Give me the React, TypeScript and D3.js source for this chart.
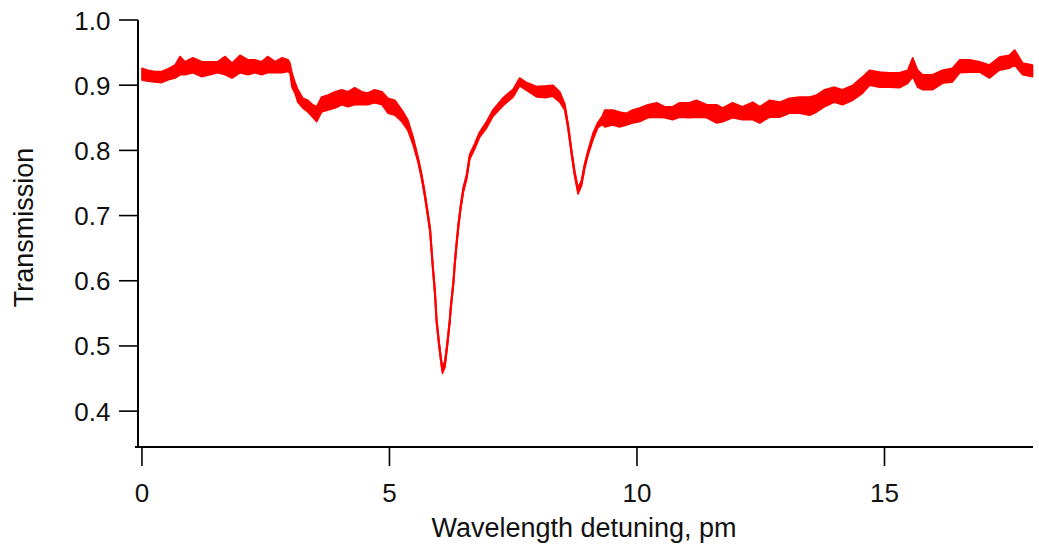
import React from 'react';
import * as d3 from 'd3';

// Wavelength detuning (pm) at sampled points
const detuning = [
  0.00, 0.12, 0.26, 0.40, 0.52, 0.67, 0.77, 0.87, 1.03, 1.21, 1.37, 1.53, 1.68, 1.82, 1.98, 2.14, 2.28, 2.42, 2.54, 2.69, 2.83, 2.95, 2.99,
  3.03, 3.09, 3.15, 3.25, 3.35, 3.45, 3.53, 3.63, 3.76, 3.90, 4.04, 4.16, 4.30, 4.44, 4.56, 4.70, 4.85, 4.97, 5.11, 5.25, 5.37, 5.48,
  5.58, 5.65, 5.71, 5.76, 5.82, 5.85, 5.88, 5.92, 5.95, 6.00, 6.04, 6.07, 6.12, 6.17, 6.22, 6.24, 6.29, 6.32, 6.35, 6.39, 6.44, 6.49, 6.56, 6.62,
  6.72, 6.82, 6.96, 7.09, 7.30, 7.50, 7.63, 7.77, 7.97, 8.17, 8.30, 8.44, 8.54,
  8.61, 8.68, 8.74, 8.81, 8.88, 8.94, 9.01, 9.11, 9.21, 9.30,
  9.35, 9.51, 9.65, 9.79, 9.91, 10.05, 10.22, 10.40, 10.56, 10.72, 10.86, 11.06, 11.20, 11.41, 11.61, 11.73, 11.93, 12.13, 12.34, 12.48, 12.68, 12.88, 13.08, 13.28, 13.49,
  13.63, 13.79, 13.99, 14.15, 14.36, 14.56, 14.70, 14.90, 15.10, 15.30, 15.47, 15.57, 15.67, 15.77, 15.97, 16.17, 16.37, 16.52, 16.72, 16.92, 17.12, 17.32, 17.52, 17.63, 17.79, 17.99,
];

// Upper edge of the noisy transmission trace
const transmissionHigh = [
  0.926, 0.923, 0.921, 0.921, 0.925, 0.931, 0.944, 0.936, 0.942, 0.936, 0.936, 0.936, 0.944, 0.934, 0.946, 0.939, 0.939, 0.936, 0.944, 0.936, 0.942, 0.939, 0.934,
  0.919, 0.905, 0.893, 0.880, 0.877, 0.870, 0.867, 0.882, 0.885, 0.890, 0.893, 0.890, 0.896, 0.890, 0.888, 0.893, 0.890, 0.880, 0.877, 0.862, 0.847, 0.820,
  0.789, 0.764, 0.738, 0.713, 0.682, 0.651, 0.621, 0.585, 0.544, 0.508, 0.483, 0.468, 0.477, 0.508, 0.544, 0.564, 0.600, 0.631, 0.656, 0.687, 0.718, 0.743, 0.764, 0.794,
  0.810, 0.828, 0.844, 0.862, 0.881, 0.894, 0.911, 0.904, 0.898, 0.899, 0.900, 0.890, 0.872,
  0.840, 0.800, 0.769, 0.743, 0.754, 0.779, 0.800, 0.826, 0.843, 0.853,
  0.862, 0.862, 0.859, 0.857, 0.862, 0.865, 0.870, 0.873, 0.867, 0.867, 0.873, 0.873, 0.877, 0.870, 0.870, 0.865, 0.873, 0.867, 0.874, 0.867, 0.877, 0.874, 0.880, 0.882, 0.882,
  0.885, 0.893, 0.897, 0.893, 0.900, 0.913, 0.923, 0.920, 0.919, 0.919, 0.923, 0.942, 0.923, 0.916, 0.916, 0.923, 0.926, 0.939, 0.939, 0.936, 0.931, 0.943, 0.946, 0.954, 0.934, 0.931,
];

// Lower edge of the noisy transmission trace
const transmissionLow = [
  0.908, 0.906, 0.905, 0.904, 0.908, 0.911, 0.916, 0.916, 0.919, 0.913, 0.916, 0.919, 0.916, 0.911, 0.919, 0.916, 0.919, 0.916, 0.919, 0.919, 0.919, 0.921, 0.919,
  0.897, 0.888, 0.874, 0.865, 0.859, 0.851, 0.844, 0.859, 0.862, 0.865, 0.870, 0.867, 0.870, 0.870, 0.870, 0.873, 0.870, 0.857, 0.854, 0.844, 0.831, 0.808,
  0.781, 0.756, 0.730, 0.705, 0.674, 0.643, 0.613, 0.577, 0.536, 0.500, 0.475, 0.458, 0.467, 0.500, 0.536, 0.556, 0.592, 0.623, 0.648, 0.679, 0.710, 0.735, 0.756, 0.786,
  0.802, 0.820, 0.834, 0.852, 0.869, 0.882, 0.899, 0.892, 0.882, 0.881, 0.883, 0.874, 0.862,
  0.832, 0.792, 0.761, 0.733, 0.746, 0.771, 0.792, 0.816, 0.835, 0.840,
  0.836, 0.839, 0.836, 0.839, 0.842, 0.844, 0.850, 0.851, 0.850, 0.847, 0.851, 0.850, 0.851, 0.850, 0.842, 0.844, 0.850, 0.847, 0.847, 0.842, 0.851, 0.851, 0.857, 0.857, 0.854,
  0.859, 0.867, 0.874, 0.870, 0.877, 0.888, 0.900, 0.897, 0.897, 0.896, 0.903, 0.913, 0.897, 0.893, 0.893, 0.903, 0.905, 0.919, 0.920, 0.920, 0.911, 0.923, 0.926, 0.931, 0.916, 0.913,
];

const yTickValues = [0.4, 0.5, 0.6, 0.7, 0.8, 0.9, 1.0];
const xTickValues = [0, 5, 10, 15];
const xTitle = 'Wavelength detuning, pm';
const yTitle = 'Transmission';

const FONT = '"Liberation Sans", Arial, sans-serif';

export default function App() {
  const x = d3.scaleLinear().domain([-0.08, 18]).range([138, 1033]);
  const y = d3.scaleLinear().domain([0.345, 1.0]).range([447, 20]);

  const pts = detuning.map((d, i) => ({ d, hi: transmissionHigh[i], lo: transmissionLow[i] }));
  const band = d3
    .area<{ d: number; hi: number; lo: number }>()
    .x((p) => x(p.d))
    .y0((p) => y(p.lo))
    .y1((p) => y(p.hi));
  const mid = d3
    .line<{ d: number; hi: number; lo: number }>()
    .x((p) => x(p.d))
    .y((p) => y((p.hi + p.lo) / 2));

  const fmt = d3.format('.1f');
  const [x0, x1] = x.range();
  const [yb, yt] = y.range();

  return (
    <svg
      width={1039}
      height={555}
      style={{ position: 'absolute', left: 0, top: 0, background: '#fff' }}
      fontFamily={FONT}
    >
      <rect x={0} y={0} width={1039} height={555} fill="#fff" />
      {/* data */}
      <path d={band(pts) || ''} fill="#ff0000" stroke="#ff0000" strokeWidth={1.6} strokeLinejoin="round" />
      <path d={mid(pts) || ''} fill="none" stroke="#ff0000" strokeWidth={2.2} strokeLinejoin="round" />

      {/* y axis */}
      <line x1={x0} x2={x0} y1={yt} y2={yb} stroke="#000" strokeWidth={2} />
      {yTickValues.map((v) => (
        <g key={'y' + v}>
          <line x1={x0 - 19} x2={x0} y1={y(v)} y2={y(v)} stroke="#000" strokeWidth={1.6} />
          <text x={110.5} y={y(v) + 9.5} textAnchor="end" fontSize={26} fill="#111">
            {fmt(v)}
          </text>
        </g>
      ))}

      {/* x axis */}
      <line x1={x0 - 3} x2={x1} y1={yb} y2={yb} stroke="#000" strokeWidth={2} />
      {xTickValues.map((v) => (
        <g key={'x' + v}>
          <line x1={x(v)} x2={x(v)} y1={yb} y2={yb + 19} stroke="#000" strokeWidth={1.6} />
          <text x={x(v)} y={501.5} textAnchor="middle" fontSize={26} fill="#111">
            {v}
          </text>
        </g>
      ))}

      <text x={584} y={537} textAnchor="middle" fontSize={27} fill="#111">
        {xTitle}
      </text>
      <text transform="translate(33,227.5) rotate(-90)" textAnchor="middle" fontSize={27} fill="#111">
        {yTitle}
      </text>
    </svg>
  );
}
